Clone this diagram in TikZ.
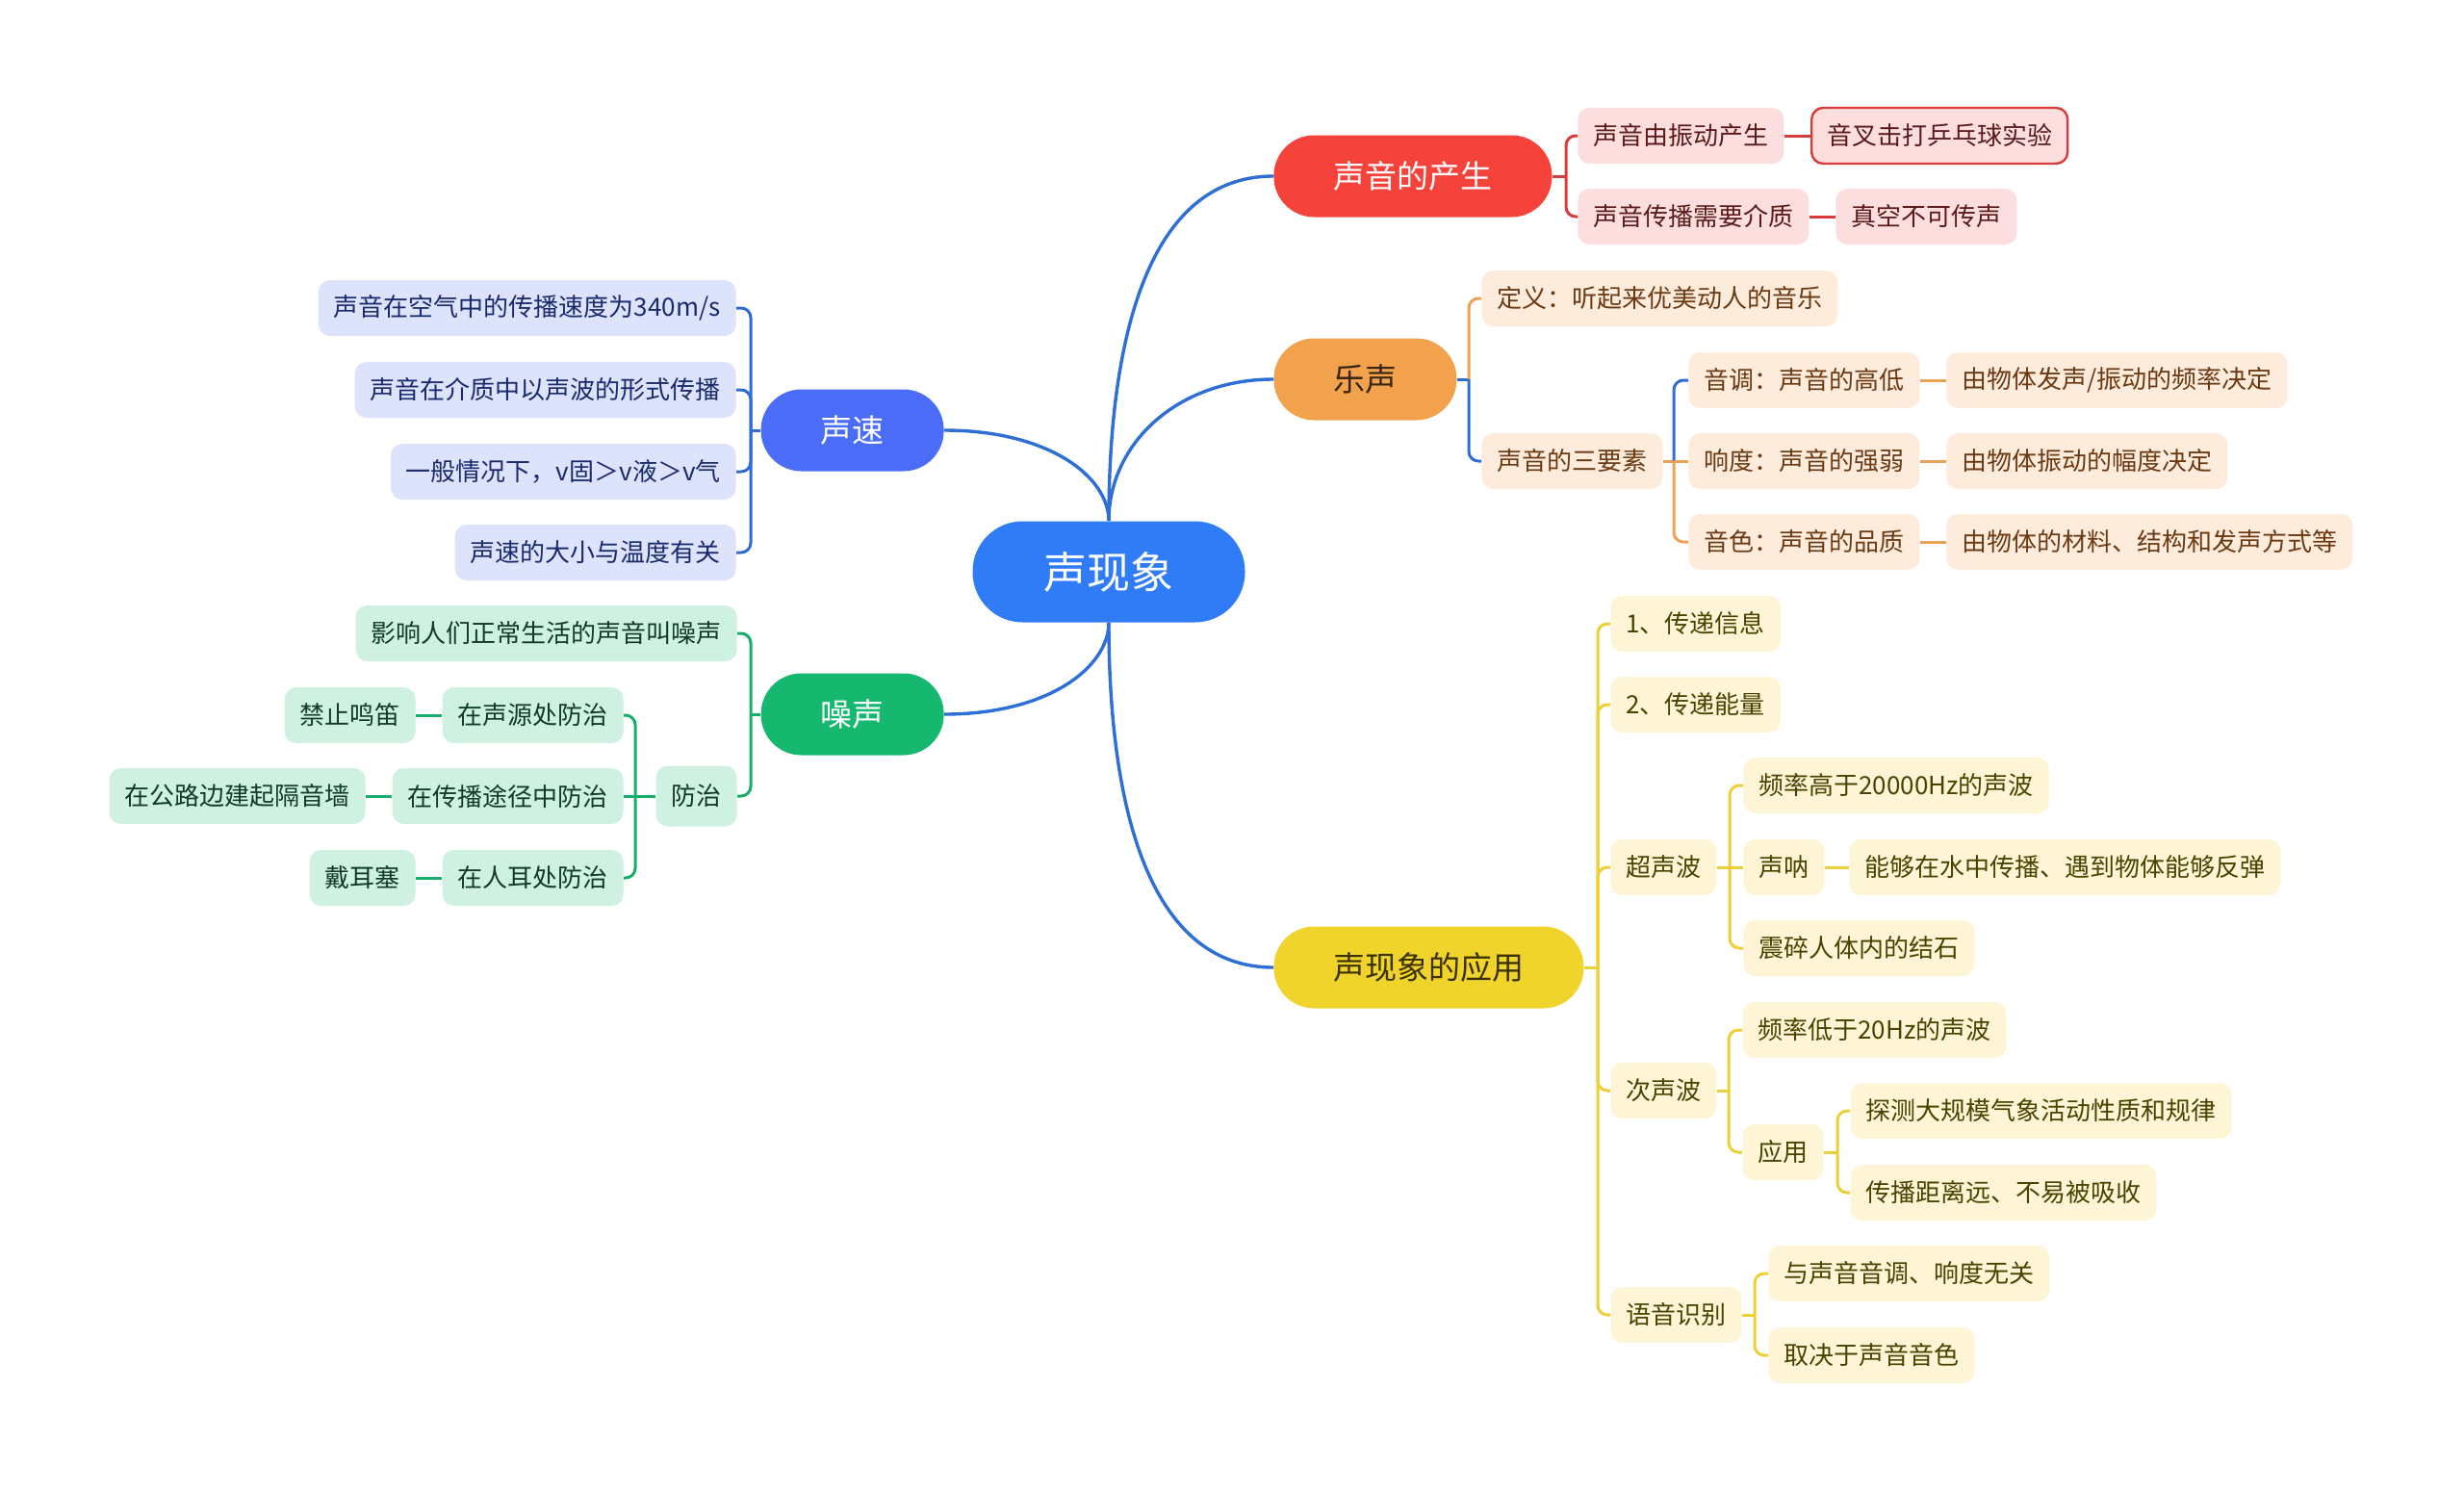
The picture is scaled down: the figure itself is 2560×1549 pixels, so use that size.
\documentclass[tikz,border=0pt]{standalone}
\usepackage{fontspec}
\setmainfont{Noto Sans CJK SC}
\definecolor{rootblue}{HTML}{2F7CF6}
\definecolor{linkblue}{HTML}{2D6FD6}
\definecolor{redmain}{HTML}{F5433B}
\definecolor{redline}{HTML}{D93B3B}
\definecolor{redleaf}{HTML}{FDDEDE}
\definecolor{redtext}{HTML}{5A1A1A}
\definecolor{orgmain}{HTML}{F2A14C}
\definecolor{orgline}{HTML}{EBA158}
\definecolor{orgleaf}{HTML}{FDEBDC}
\definecolor{orgtext}{HTML}{6B3A12}
\definecolor{ylwmain}{HTML}{F0D32B}
\definecolor{ylwline}{HTML}{EDD035}
\definecolor{ylwleaf}{HTML}{FDF5D6}
\definecolor{ylwtext}{HTML}{4B4200}
\definecolor{bvmain}{HTML}{4A6CF6}
\definecolor{bvline}{HTML}{2F6BD6}
\definecolor{bvleaf}{HTML}{DDE3FB}
\definecolor{bvtext}{HTML}{1A2A6C}
\definecolor{grnmain}{HTML}{15B86E}
\definecolor{grnline}{HTML}{17AD6C}
\definecolor{grnleaf}{HTML}{CFF1E2}
\definecolor{grntext}{HTML}{0F3B28}
\begin{document}
\begin{tikzpicture}[x=.5pt,y=-.5pt,
  rootnode/.style={fill=rootblue,text=white,rounded corners=26pt,minimum height=52.5pt,inner xsep=37pt,inner ysep=0pt,font=\fontsize{22.5}{27}\selectfont},
  mainnode/.style={rounded corners=21pt,minimum height=42.5pt,inner xsep=31pt,inner ysep=0pt,font=\fontsize{16.5}{20}\selectfont},
  leaf/.style={rounded corners=6pt,minimum height=29pt,inner xsep=8pt,inner ysep=0pt,font=\fontsize{13}{16}\selectfont},
  redleafnode/.style={leaf,fill=redleaf,text=redtext},
  orgleafnode/.style={leaf,fill=orgleaf,text=orgtext},
  ylwleafnode/.style={leaf,fill=ylwleaf,text=ylwtext},
  bvleafnode/.style={leaf,fill=bvleaf,text=bvtext},
  grnleafnode/.style={leaf,fill=grnleaf,text=grntext},
  rootlink/.style={draw=linkblue,line width=1.7pt},
  link/.style={line width=1.5pt,rounded corners=5pt}]
\path[use as bounding box] (0,0) rectangle (2560,1549);
% centre
\node[rootnode] (root) at (1152,594) {声现象};
% main topics
\node[mainnode,fill=redmain,text=white,anchor=west] (chan) at (1323,183) {声音的产生};
\node[mainnode,fill=orgmain,text={rgb,255:red,58;green,37;blue,16},anchor=west] (yues) at (1323,394) {乐声};
\node[mainnode,fill=ylwmain,text={rgb,255:red,58;green,50;blue,0},anchor=west] (app) at (1323,1005) {声现象的应用};
\node[mainnode,fill=bvmain,text=white,anchor=east] (sus) at (981,447) {声速};
\node[mainnode,fill=grnmain,text=white,anchor=east] (zs) at (981,742) {噪声};
\draw[rootlink] (root.north) .. controls +(0,-190) and +(-130,0) .. (chan.west);
\draw[rootlink] (root.north) .. controls +(0,-80) and +(-100,0) .. (yues.west);
\draw[rootlink] (root.south) .. controls +(0,190) and +(-130,0) .. (app.west);
\draw[rootlink] (root.north) .. controls +(0,-45) and +(110,0) .. (sus.east);
\draw[rootlink] (root.south) .. controls +(0,45) and +(110,0) .. (zs.east);
% 声音的产生
\node[redleafnode,anchor=west] (c1) at (1639,141) {声音由振动产生};
\node[redleafnode,draw=redline,line width=1.2pt,anchor=west] (c1a) at (1881,141) {音叉击打乒乓球实验};
\node[redleafnode,anchor=west] (c2) at (1639,225) {声音传播需要介质};
\node[redleafnode,anchor=west] (c2a) at (1907,225) {真空不可传声};
\coordinate (bchan) at (1627,183);
\draw[link,redline] (chan.east) -- (bchan);
\draw[link,redline] (bchan) |- (c1.west);
\draw[link,redline] (bchan) |- (c2.west);
\draw[link,redline] (c1.east) -- (c1a.west);
\draw[link,redline] (c2.east) -- (c2a.west);
% 乐声
\node[orgleafnode,anchor=west] (dy) at (1539,310) {定义：听起来优美动人的音乐};
\node[orgleafnode,anchor=west] (sy) at (1539,479) {声音的三要素};
\node[orgleafnode,anchor=west] (yd) at (1754,395) {音调：声音的高低};
\node[orgleafnode,anchor=west] (yda) at (2022,395) {由物体发声/振动的频率决定};
\node[orgleafnode,anchor=west] (xd) at (1754,479) {响度：声音的强弱};
\node[orgleafnode,anchor=west] (xda) at (2022,479) {由物体振动的幅度决定};
\node[orgleafnode,anchor=west] (ys) at (1754,563) {音色：声音的品质};
\node[orgleafnode,anchor=west] (ysa) at (2022,563) {由物体的材料、结构和发声方式等};
\coordinate (byue) at (1526,394);
\coordinate (bsy) at (1739,479);
\draw[link,linkblue] (yues.east) -- (byue);
\draw[link,orgline] (byue) |- (dy.west);
\draw[link,linkblue] (byue) |- (sy.west);
\draw[link,orgline] (sy.east) -- (bsy);
\draw[link,linkblue] (bsy) |- (yd.west);
\draw[link,orgline] (bsy) -- (xd.west);
\draw[link,orgline] (bsy) |- (ys.west);
\draw[link,orgline] (yd.east) -- (yda.west);
\draw[link,orgline] (xd.east) -- (xda.west);
\draw[link,orgline] (ys.east) -- (ysa.west);
% 声现象的应用
\node[ylwleafnode,anchor=west] (a1) at (1673,648) {1、传递信息};
\node[ylwleafnode,anchor=west] (a2) at (1673,732) {2、传递能量};
\node[ylwleafnode,anchor=west] (a3) at (1673,901) {超声波};
\node[ylwleafnode,anchor=west] (a31) at (1811,816) {频率高于20000Hz的声波};
\node[ylwleafnode,anchor=west] (a32) at (1811,901) {声呐};
\node[ylwleafnode,anchor=west] (a32a) at (1921,901) {能够在水中传播、遇到物体能够反弹};
\node[ylwleafnode,anchor=west] (a33) at (1811,985) {震碎人体内的结石};
\node[ylwleafnode,anchor=west] (a4) at (1673,1133) {次声波};
\node[ylwleafnode,anchor=west] (a41) at (1810,1070) {频率低于20Hz的声波};
\node[ylwleafnode,anchor=west] (a42) at (1810,1197) {应用};
\node[ylwleafnode,anchor=west] (a421) at (1922,1154) {探测大规模气象活动性质和规律};
\node[ylwleafnode,anchor=west] (a422) at (1922,1239) {传播距离远、不易被吸收};
\node[ylwleafnode,anchor=west] (a5) at (1673,1366) {语音识别};
\node[ylwleafnode,anchor=west] (a51) at (1837,1323) {与声音音调、响度无关};
\node[ylwleafnode,anchor=west] (a52) at (1837,1408) {取决于声音音色};
\coordinate (bapp) at (1660,1005);
\coordinate (ba3) at (1797,901);
\coordinate (ba4) at (1796,1133);
\coordinate (ba42) at (1909,1197);
\coordinate (ba5) at (1823,1366);
\draw[link,ylwline] (app.east) -- (bapp);
\draw[link,ylwline] (bapp) |- (a1.west);
\draw[link,ylwline] (bapp) |- (a2.west);
\draw[link,ylwline] (bapp) |- (a3.west);
\draw[link,ylwline] (bapp) |- (a4.west);
\draw[link,ylwline] (bapp) |- (a5.west);
\draw[link,ylwline] (a3.east) -- (ba3);
\draw[link,ylwline] (ba3) |- (a31.west);
\draw[link,ylwline] (ba3) -- (a32.west);
\draw[link,ylwline] (ba3) |- (a33.west);
\draw[link,ylwline] (a32.east) -- (a32a.west);
\draw[link,ylwline] (a4.east) -- (ba4);
\draw[link,ylwline] (ba4) |- (a41.west);
\draw[link,ylwline] (ba4) |- (a42.west);
\draw[link,ylwline] (a42.east) -- (ba42);
\draw[link,ylwline] (ba42) |- (a421.west);
\draw[link,ylwline] (ba42) |- (a422.west);
\draw[link,ylwline] (a5.east) -- (ba5);
\draw[link,ylwline] (ba5) |- (a51.west);
\draw[link,ylwline] (ba5) |- (a52.west);
% 声速
\node[bvleafnode,anchor=east] (s1) at (765,320) {声音在空气中的传播速度为340m/s};
\node[bvleafnode,anchor=east] (s2) at (765,405) {声音在介质中以声波的形式传播};
\node[bvleafnode,anchor=east] (s3) at (765,490) {一般情况下，v固＞v液＞v气};
\node[bvleafnode,anchor=east] (s4) at (765,574) {声速的大小与温度有关};
\coordinate (bsus) at (780,447);
\draw[link,bvline] (sus.west) -- (bsus);
\draw[link,bvline] (bsus) |- (s1.east);
\draw[link,bvline] (bsus) |- (s2.east);
\draw[link,bvline] (bsus) |- (s3.east);
\draw[link,bvline] (bsus) |- (s4.east);
% 噪声
\node[grnleafnode,anchor=east] (z1) at (766,658) {影响人们正常生活的声音叫噪声};
\node[grnleafnode,anchor=east,minimum height=31.5pt] (z2) at (766,827) {防治};
\node[grnleafnode,anchor=east] (z21) at (648,743) {在声源处防治};
\node[grnleafnode,anchor=east] (z21a) at (432,743) {禁止鸣笛};
\node[grnleafnode,anchor=east] (z22) at (648,827) {在传播途径中防治};
\node[grnleafnode,anchor=east] (z22a) at (380,827) {在公路边建起隔音墙};
\node[grnleafnode,anchor=east] (z23) at (648,912) {在人耳处防治};
\node[grnleafnode,anchor=east] (z23a) at (432,912) {戴耳塞};
\coordinate (bzs) at (780,742);
\coordinate (bz2) at (660,827);
\draw[link,grnline] (zs.west) -- (bzs);
\draw[link,grnline] (bzs) |- (z1.east);
\draw[link,grnline] (bzs) |- (z2.east);
\draw[link,grnline] (z2.west) -- (bz2);
\draw[link,grnline] (bz2) |- (z21.east);
\draw[link,grnline] (bz2) -- (z22.east);
\draw[link,grnline] (bz2) |- (z23.east);
\draw[link,grnline] (z21.west) -- (z21a.east);
\draw[link,grnline] (z22.west) -- (z22a.east);
\draw[link,grnline] (z23.west) -- (z23a.east);
\end{tikzpicture}
\end{document}
